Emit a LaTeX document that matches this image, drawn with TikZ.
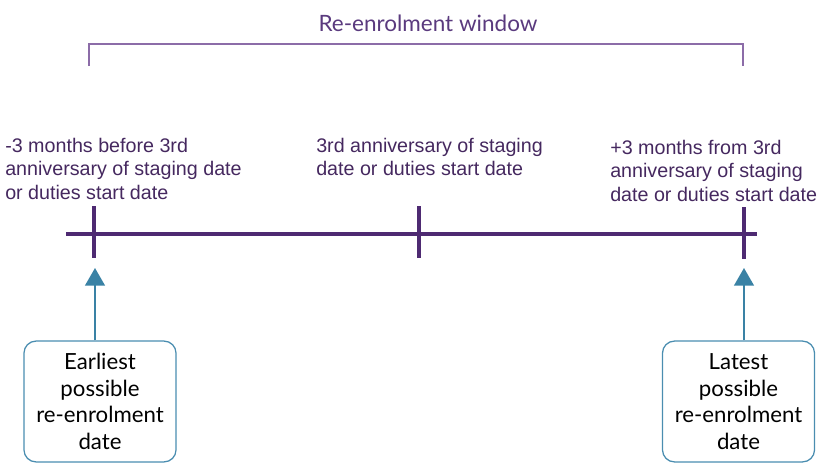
\documentclass[tikz,border=0pt]{standalone}
\usepackage{fontspec}
\setmainfont{Liberation Sans}
\newfontfamily\boxfont{Lato}
\usepackage{xcolor}
\usepackage{tikz}
\usetikzlibrary{arrows.meta,positioning,calc}

\definecolor{lineviolet}{HTML}{4E2A72}
\definecolor{textviolet}{HTML}{45285F}
\definecolor{titleviolet}{HTML}{5A3A7E}
\definecolor{braceviolet}{HTML}{8C6CA8}
\definecolor{boxblue}{HTML}{4A8DB0}
\definecolor{arrowblue}{HTML}{3A82A5}

\begin{document}
\begin{tikzpicture}[
    x=0.025cm, y=-0.025cm,
    timeline/.style={line width=2.8pt, color=lineviolet},
    datelabel/.style={anchor=north west, inner sep=0pt, align=left,
        text=textviolet, font=\fontsize{14}{16.6}\selectfont},
    datebox/.style={draw=boxblue, line width=0.9pt, rounded corners=0.3cm,
        minimum width=3.8cm, minimum height=3.02cm, align=center,
        inner sep=0pt, font=\boxfont\fontsize{15.8}{19}\selectfont},
    uparrow/.style={line width=1.4pt, color=arrowblue,
        -{Triangle[length=12.5pt,width=14pt]}},
]
    \useasboundingbox (0,0) rectangle (837,474);

    % window bracket
    \node[anchor=base, text=titleviolet, inner sep=0pt,
        font=\boxfont\fontsize{16}{18}\selectfont] (title) at (428,31) {Re-enrolment window};
    \coordinate (wl) at (89,66);
    \coordinate (wr) at (743,66);
    \draw[braceviolet, line width=1.2pt] (wl) -- ++(0,-22) -| (wr);

    % time line with ticks
    \coordinate (tstart) at (66,234);
    \coordinate (tend) at (757,234);
    \draw[timeline] (tstart) -- (tend);
    \coordinate (tick1) at (94,232);
    \coordinate (tick2) at (419,232);
    \coordinate (tick3) at (744,233);
    \foreach \t in {tick1,tick2,tick3}
        \draw[timeline] ($(\t)+(0,-26)$) -- ($(\t)+(0,26)$);

    % labels above the line
    \node[datelabel] (before) at (5,138) {-3 months before 3rd\\anniversary of staging date\\or duties start date};
    \node[datelabel] (anniv) at (316,138) {3rd anniversary of staging\\date or duties start date};
    \node[datelabel] (after) at (610,140) {+3 months from 3rd\\anniversary of staging\\date or duties start date};

    % boxes and arrows
    \node[datebox] (earliest) at (100,401.5) {Earliest\\possible\\re-enrolment\\date};
    \node[datebox] (latest) at (738.5,401.5) {Latest\\possible\\re-enrolment\\date};
    \coordinate (tip1) at (95,268);
    \coordinate (tip3) at (744,268);
    \draw[uparrow] (earliest.north -| tip1) -- (tip1);
    \draw[uparrow] (latest.north -| tip3) -- (tip3);
\end{tikzpicture}
\end{document}
